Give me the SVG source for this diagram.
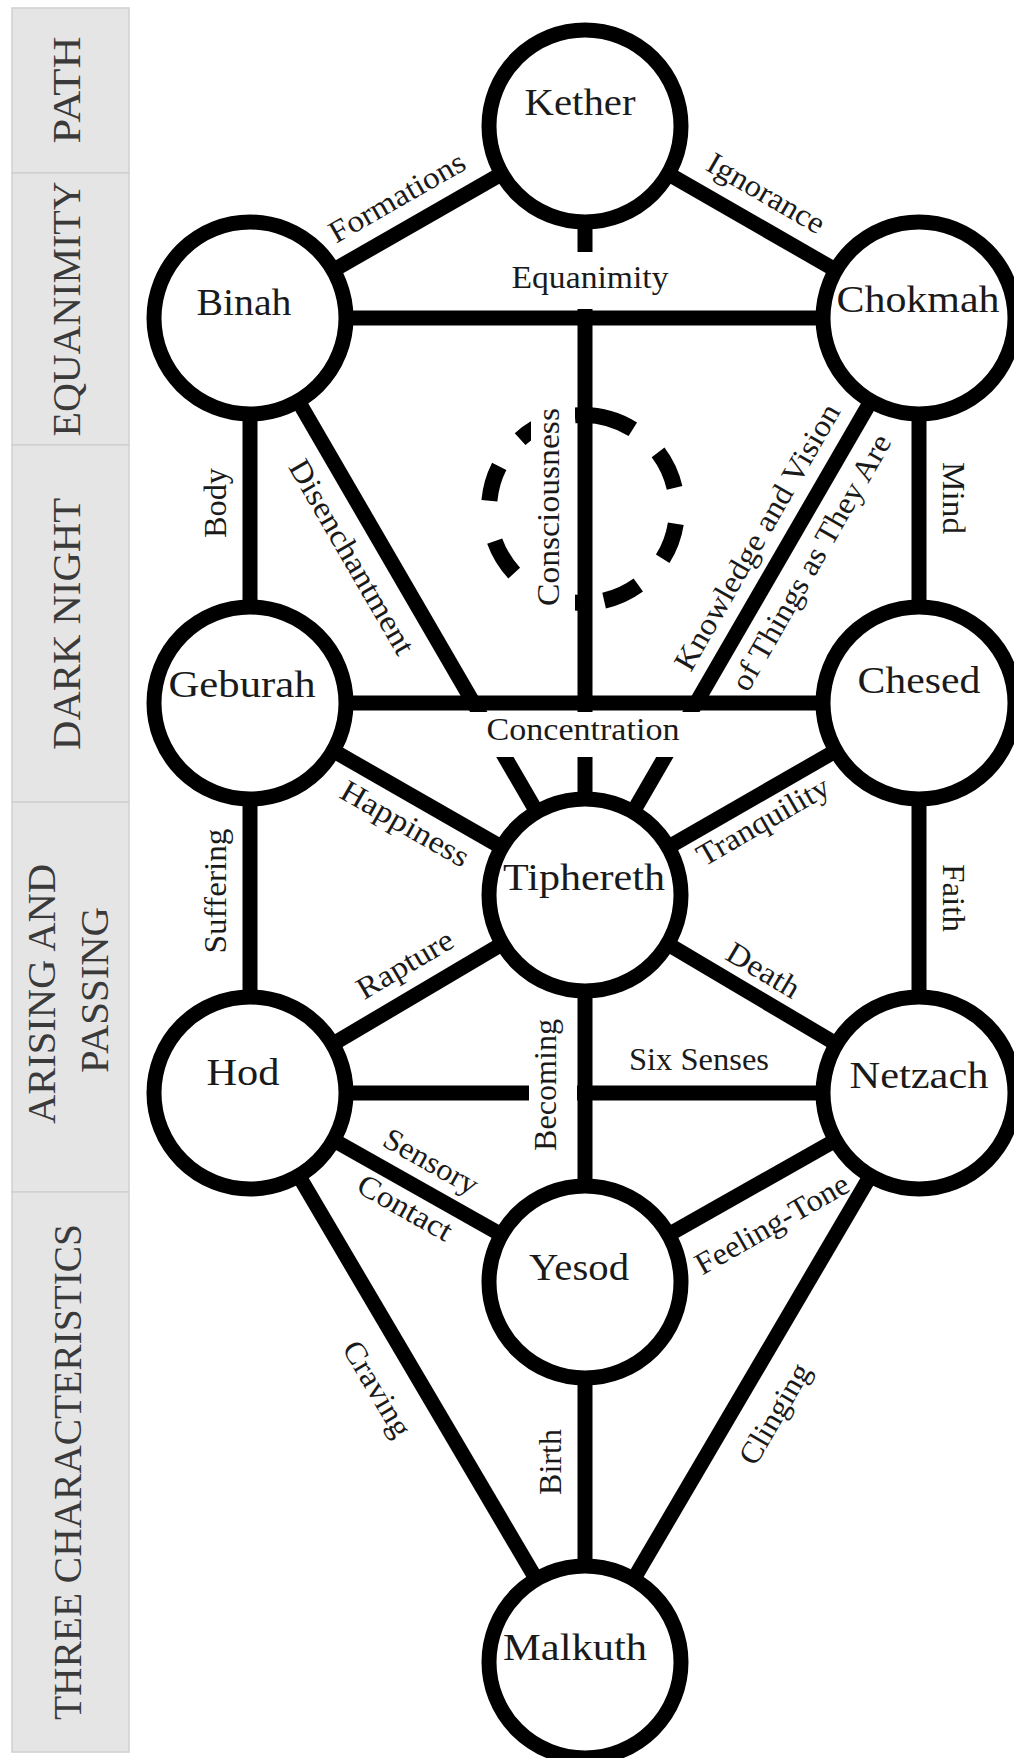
<svg xmlns="http://www.w3.org/2000/svg" width="1014" height="1758" viewBox="0 0 1014 1758">
<style>
.panel rect{fill:#e5e5e5;stroke:#d0d0d0;stroke-width:1.5}
.ptxt{font-family:"Liberation Serif","Times New Roman",serif;font-size:40px;fill:#3a3a3a;text-anchor:middle}
#connectors line{stroke:#000;stroke-width:15;stroke-linecap:butt}
.dash{stroke:#000;stroke-width:16;fill:none;stroke-linecap:butt}
.mask{fill:#fff}
.node circle{fill:#fff;stroke:#000;stroke-width:15}
.ntxt{font-family:"Liberation Serif","Times New Roman",serif;font-size:38.5px;fill:#1a1a1a;text-anchor:middle}
.lbl{font-family:"Liberation Serif","Times New Roman",serif;font-size:31px;fill:#1a1a1a;text-anchor:middle}
</style>
<rect x="0" y="0" width="1014" height="1758" fill="#fff"/>

<g id="phases" class="panel">
<rect x="12" y="8" width="117" height="165"/>
<rect x="12" y="173" width="117" height="272"/>
<rect x="12" y="445" width="117" height="357"/>
<rect x="12" y="802" width="117" height="390"/>
<rect x="12" y="1192" width="117" height="560"/>
<text class="ptxt" transform="translate(80,90) rotate(-90)" textLength="107" lengthAdjust="spacingAndGlyphs">PATH</text>
<text class="ptxt" transform="translate(80,309) rotate(-90)" textLength="255" lengthAdjust="spacingAndGlyphs">EQUANIMITY</text>
<text class="ptxt" transform="translate(80,624) rotate(-90)" textLength="252" lengthAdjust="spacingAndGlyphs">DARK NIGHT</text>
<text class="ptxt" transform="translate(55,994) rotate(-90)" textLength="260" lengthAdjust="spacingAndGlyphs">ARISING AND</text>
<text class="ptxt" transform="translate(108,990) rotate(-90)" textLength="166" lengthAdjust="spacingAndGlyphs">PASSING</text>
<text class="ptxt" transform="translate(81,1472) rotate(-90)" textLength="496" lengthAdjust="spacingAndGlyphs">THREE CHARACTERISTICS</text>
</g>

<g id="connectors">
<line x1="250" y1="318" x2="585" y2="126"/>
<line x1="585" y1="126" x2="919" y2="318"/>
<line x1="585" y1="126" x2="585" y2="252"/>
<line x1="585" y1="309" x2="585" y2="895"/>
<line x1="250" y1="318" x2="919" y2="318"/>
<line x1="250" y1="318" x2="250" y2="703"/>
<line x1="250" y1="318" x2="585" y2="895"/>
<line x1="919" y1="318" x2="585" y2="895"/>
<line x1="919" y1="318" x2="919" y2="703"/>
<line x1="250" y1="703" x2="919" y2="703"/>
<line x1="250" y1="703" x2="585" y2="895"/>
<line x1="919" y1="703" x2="585" y2="895"/>
<line x1="250" y1="703" x2="250" y2="1093"/>
<line x1="919" y1="703" x2="919" y2="1093"/>
<line x1="250" y1="1093" x2="585" y2="895"/>
<line x1="585" y1="895" x2="919" y2="1093"/>
<line x1="585" y1="895" x2="585" y2="1282"/>
<line x1="250" y1="1093" x2="529" y2="1093"/>
<line x1="577" y1="1093" x2="919" y2="1093"/>
<line x1="250" y1="1093" x2="585" y2="1282"/>
<line x1="585" y1="1282" x2="919" y2="1093"/>
<line x1="250" y1="1093" x2="585" y2="1662"/>
<line x1="585" y1="1282" x2="585" y2="1662"/>
<line x1="919" y1="1093" x2="585" y2="1662"/>
<path class="dash" d="M574.8,415.4 A94,94 0 0 1 632.8,429.3 M658.1,452.4 A94,94 0 0 1 674.6,487.9 M675.8,523.7 A94,94 0 0 1 662.7,558.8 M638.3,585 A94,94 0 0 1 604.1,600.6 M579.7,602.9 A94,94 0 0 1 543.3,594.2 M514.2,573.1 A94,94 0 0 1 494.7,541.1 M489.4,500.8 A94,94 0 0 1 499.2,466.3 M520.1,439.1 A94,94 0 0 1 552.4,420.1"/>
</g>

<g id="label-masks">
<rect class="mask" x="440" y="712" width="300" height="45"/>
<rect class="mask" x="531" y="398" width="44" height="220"/>
</g>

<g id="kether" class="node"><circle cx="585" cy="126" r="96"/><text class="ntxt" x="580" y="115" textLength="111" lengthAdjust="spacingAndGlyphs">Kether</text></g>
<g id="binah" class="node"><circle cx="250" cy="318" r="96"/><text class="ntxt" x="244" y="315" textLength="95" lengthAdjust="spacingAndGlyphs">Binah</text></g>
<g id="chokmah" class="node"><circle cx="919" cy="318" r="96"/><text class="ntxt" x="918" y="312" textLength="163" lengthAdjust="spacingAndGlyphs">Chokmah</text></g>
<g id="geburah" class="node"><circle cx="250" cy="703" r="96"/><text class="ntxt" x="242" y="697" textLength="147" lengthAdjust="spacingAndGlyphs">Geburah</text></g>
<g id="chesed" class="node"><circle cx="919" cy="703" r="96"/><text class="ntxt" x="919" y="693" textLength="123" lengthAdjust="spacingAndGlyphs">Chesed</text></g>
<g id="tiphereth" class="node"><circle cx="585" cy="895" r="96"/><text class="ntxt" x="584" y="890" textLength="162" lengthAdjust="spacingAndGlyphs">Tiphereth</text></g>
<g id="hod" class="node"><circle cx="250" cy="1093" r="96"/><text class="ntxt" x="243" y="1085" textLength="73" lengthAdjust="spacingAndGlyphs">Hod</text></g>
<g id="netzach" class="node"><circle cx="919" cy="1093" r="96"/><text class="ntxt" x="919" y="1088" textLength="139" lengthAdjust="spacingAndGlyphs">Netzach</text></g>
<g id="yesod" class="node"><circle cx="585" cy="1282" r="96"/><text class="ntxt" x="579" y="1280" textLength="100" lengthAdjust="spacingAndGlyphs">Yesod</text></g>
<g id="malkuth" class="node"><circle cx="585" cy="1662" r="96"/><text class="ntxt" x="575" y="1660" textLength="144" lengthAdjust="spacingAndGlyphs">Malkuth</text></g>

<g id="edge-labels" class="lbls">
<text class="lbl" transform="translate(402,206) rotate(-29.8)" textLength="152" lengthAdjust="spacingAndGlyphs">Formations</text>
<text class="lbl" transform="translate(761,202) rotate(30)" textLength="131" lengthAdjust="spacingAndGlyphs">Ignorance</text>
<text class="lbl" x="590" y="288" textLength="157" lengthAdjust="spacingAndGlyphs">Equanimity</text>
<text class="lbl" transform="translate(226,503) rotate(-90)" textLength="70" lengthAdjust="spacingAndGlyphs">Body</text>
<text class="lbl" transform="translate(943,498) rotate(90)" textLength="72" lengthAdjust="spacingAndGlyphs">Mind</text>
<text class="lbl" transform="translate(343,562) rotate(59.9)" textLength="220" lengthAdjust="spacingAndGlyphs">Disenchantment</text>
<text class="lbl" transform="translate(559,507) rotate(-90)" textLength="198" lengthAdjust="spacingAndGlyphs">Consciousness</text>
<text class="lbl" transform="translate(766,542) rotate(-60.1)" textLength="302" lengthAdjust="spacingAndGlyphs">Knowledge and Vision</text>
<text class="lbl" transform="translate(820,567.5) rotate(-60.1)" textLength="290" lengthAdjust="spacingAndGlyphs">of Things as They Are</text>
<text class="lbl" x="583" y="740" textLength="193" lengthAdjust="spacingAndGlyphs">Concentration</text>
<text class="lbl" transform="translate(400,832.5) rotate(29.8)" textLength="143" lengthAdjust="spacingAndGlyphs">Happiness</text>
<text class="lbl" transform="translate(768,830) rotate(-30)" textLength="148" lengthAdjust="spacingAndGlyphs">Tranquility</text>
<text class="lbl" transform="translate(226,891) rotate(-90)" textLength="125" lengthAdjust="spacingAndGlyphs">Suffering</text>
<text class="lbl" transform="translate(943,898) rotate(90)" textLength="68" lengthAdjust="spacingAndGlyphs">Faith</text>
<text class="lbl" transform="translate(410,973) rotate(-30.6)" textLength="107" lengthAdjust="spacingAndGlyphs">Rapture</text>
<text class="lbl" transform="translate(758,979) rotate(30.8)" textLength="80" lengthAdjust="spacingAndGlyphs">Death</text>
<text class="lbl" transform="translate(556,1085) rotate(-90)" textLength="132" lengthAdjust="spacingAndGlyphs">Becoming</text>
<text class="lbl" x="699" y="1070" textLength="140" lengthAdjust="spacingAndGlyphs">Six Senses</text>
<text class="lbl" transform="translate(426,1170.5) rotate(29.4)" textLength="104" lengthAdjust="spacingAndGlyphs">Sensory</text>
<text class="lbl" transform="translate(400,1216.6) rotate(29.4)" textLength="104" lengthAdjust="spacingAndGlyphs">Contact</text>
<text class="lbl" transform="translate(777,1233) rotate(-29.7)" textLength="172" lengthAdjust="spacingAndGlyphs">Feeling-Tone</text>
<text class="lbl" transform="translate(368.5,1394) rotate(59.5)" textLength="106" lengthAdjust="spacingAndGlyphs">Craving</text>
<text class="lbl" transform="translate(561,1462) rotate(-90)" textLength="66" lengthAdjust="spacingAndGlyphs">Birth</text>
<text class="lbl" transform="translate(783.5,1419) rotate(-59.7)" textLength="112" lengthAdjust="spacingAndGlyphs">Clinging</text>
</g>
</svg>
